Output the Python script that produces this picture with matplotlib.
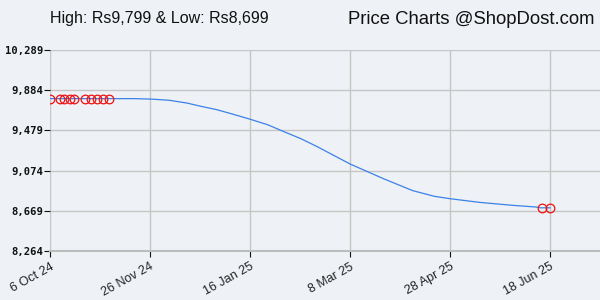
import matplotlib
matplotlib.use("Agg")
import matplotlib.pyplot as plt
import matplotlib.dates as mdates
import matplotlib.transforms as mtransforms
import datetime as dt

# Data
line_dates = ["2024-10-06", "2024-11-18", "2024-11-27", "2024-12-06", "2024-12-15",
              "2024-12-21", "2024-12-30", "2025-01-07", "2025-01-16", "2025-01-25",
              "2025-02-02", "2025-02-11", "2025-02-19", "2025-03-08", "2025-03-25",
              "2025-04-09", "2025-04-20", "2025-04-28", "2025-05-13", "2025-05-30",
              "2025-06-11", "2025-06-13", "2025-06-18"]
line_prices = [9799, 9799, 9794, 9782, 9754, 9726, 9688, 9644, 9592, 9536,
               9469, 9395, 9318, 9141, 8993, 8872, 8815, 8791, 8754, 8724,
               8707, 8699, 8699]
marker_dates = ["2024-10-06", "2024-10-11", "2024-10-13", "2024-10-16", "2024-10-18",
                "2024-10-24", "2024-10-27", "2024-10-30", "2024-11-02", "2024-11-05",
                "2025-06-14", "2025-06-18"]
marker_prices = [9799] * 10 + [8699, 8699]
y_ticks = [8264, 8669, 9074, 9479, 9884, 10289]
x_tick_dates = ["2024-10-06", "2024-11-26", "2025-01-16", "2025-03-08", "2025-04-28", "2025-06-18"]
x_tick_labels = ["6 Oct 24", "26 Nov 24", "16 Jan 25", "8 Mar 25", "28 Apr 25", "18 Jun 25"]
title_left = "High: Rs9,799 & Low: Rs8,699"
title_right = "Price Charts @ShopDost.com"

def to_num(ds):
    return [mdates.date2num(dt.datetime.strptime(d, "%Y-%m-%d")) for d in ds]

bg = "#eef1f5"
fig = plt.figure(figsize=(6, 3), dpi=100, facecolor=bg)
ax = fig.add_axes([50/600, 49/300, 550/600, 201/300])
ax.set_facecolor(bg)

lx = to_num(line_dates)
mx = to_num(marker_dates)
xt = to_num(x_tick_dates)

ax.plot(lx, line_prices, color="#3b82e8", lw=0.9, zorder=3)
ax.plot(mx, marker_prices, ls="none", marker="o", ms=6.2, mfc="none",
        mec="#ee1111", mew=0.9, zorder=4)

x0 = xt[0]
span = xt[-1] - xt[0]
ax.set_xlim(x0, x0 + span * 550 / 500)
ax.set_ylim(y_ticks[0], y_ticks[-1])

ax.set_xticks(xt)
ax.set_xticklabels(x_tick_labels, rotation=29, ha="right", rotation_mode="anchor",
                   family="Liberation Sans", fontsize=9, color="#222222")
offset = mtransforms.ScaledTranslation(11/100, 0, fig.dpi_scale_trans)
for lbl in ax.get_xticklabels():
    lbl.set_transform(lbl.get_transform() + offset)
ax.set_yticks(y_ticks)
ax.set_yticklabels([f"{v:,}" for v in y_ticks], family="DejaVu Sans Mono",
                   fontweight="bold", fontsize=7.6, color="#111111")

ax.grid(True, color="#c6c6c6", lw=1.0, zorder=0)
for s in ["top", "right", "left"]:
    ax.spines[s].set_visible(False)
ax.spines["bottom"].set_color("#bdbdbd")
ax.spines["bottom"].set_linewidth(1.5)
ax.tick_params(axis="y", length=4, width=0.8, color="#111111", pad=1)
ax.tick_params(axis="x", length=4, width=0.8, color="#111111", pad=3)

fig.text(50/600, 1 - 19/300, title_left, family="Liberation Sans", fontsize=11.5,
         va="center", ha="left", color="#111111")
fig.text(595/600, 1 - 19/300, title_right, family="Liberation Sans", fontsize=13.3,
         va="center", ha="right", color="#111111")

fig.savefig("out.png", dpi=100, facecolor=bg)
